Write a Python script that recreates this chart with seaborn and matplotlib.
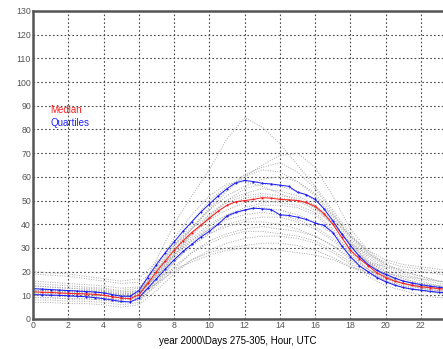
import numpy as np
import pandas as pd
import seaborn as sns
import matplotlib.pyplot as plt

# hours of the day (half-hour steps for the statistics, hourly for single days)
hours_half = np.arange(0, 24, 0.5)
hours_day = np.arange(0, 25, 1)

median = [11.5, 11.3, 11.2, 11.0, 10.8, 10.7, 10.6, 10.4, 10.0, 9.4, 8.8, 8.6,
          10.2, 15.0, 20.0, 24.5, 29.0, 33.0, 36.5, 39.5, 42.5, 45.5, 48.0, 49.5,
          50.0, 50.5, 51.2, 51.0, 50.5, 50.3, 50.0, 49.2, 47.5, 44.5, 40.0, 34.5,
          29.0, 25.5, 22.5, 19.5, 17.5, 16.0, 15.0, 14.2, 13.6, 13.2, 12.8, 12.5]

upper_q = [12.8, 12.6, 12.4, 12.2, 12.0, 11.8, 11.6, 11.4, 11.0, 10.3, 9.6, 9.6,
           12.0, 17.5, 23.0, 28.0, 32.5, 37.0, 41.0, 45.0, 48.5, 52.0, 55.0, 57.5,
           58.5, 58.0, 57.3, 57.0, 56.5, 56.0, 53.5, 52.5, 50.5, 46.5, 41.5, 36.0,
           31.0, 26.5, 23.0, 20.5, 18.8, 17.3, 16.0, 15.2, 14.5, 13.9, 13.4, 13.0]

lower_q = [10.3, 10.2, 10.1, 10.0, 9.8, 9.6, 9.4, 9.0, 8.6, 8.0, 7.4, 7.2,
           8.8, 13.0, 17.0, 21.0, 25.0, 28.5, 31.5, 34.5, 37.0, 40.0, 43.5, 45.0,
           46.0, 46.8, 46.5, 46.2, 44.0, 43.7, 43.0, 42.0, 40.5, 39.5, 36.5, 31.0,
           26.3, 22.5, 20.0, 17.5, 15.7, 14.3, 13.3, 12.6, 12.2, 11.7, 11.3, 11.0]

# single days
days = [
    [12, 11.5, 11, 10.5, 10, 9, 11, 25, 40, 52, 63, 76, 85, 81, 74, 65, 56, 46, 36, 28, 22, 19, 17, 15, 14],
    [14, 13.5, 13, 12.5, 12, 11, 12, 21, 30, 38, 46, 54, 60, 65, 69, 70, 64, 52, 38, 29, 23, 20, 18, 16, 15],
    [10, 10, 9.5, 9.5, 9, 8, 9, 19, 29, 38, 47, 55, 61, 64, 66, 62, 55, 45, 34, 26, 20, 17, 15, 13, 12],
    [11, 11, 10.5, 10, 10, 9, 10, 20, 31, 41, 50, 56, 60, 63, 62, 58, 52, 43, 33, 25, 19, 16, 14, 13, 12],
    [15, 14.5, 14, 13.5, 13, 12, 13, 22, 31, 39, 46, 52, 56, 59, 60, 58, 53, 44, 35, 28, 23, 20, 18, 16, 15],
    [12, 12, 11.5, 11, 11, 10, 10.5, 18, 27, 35, 43, 50, 55, 57, 56, 54, 50, 44, 35, 27, 21, 18, 16, 14, 13],
    [9, 9, 8.5, 8.5, 8, 7, 8, 17, 27, 36, 44, 50, 53, 55, 54, 52, 48, 41, 32, 24, 18, 15, 13, 12, 11],
    [20, 19.5, 19, 18, 17, 16, 17, 24, 31, 38, 44, 49, 52, 53, 52, 51, 47, 40, 32, 27, 24, 22, 21, 20, 19],
    [11, 11, 11, 10.5, 10, 9, 10, 19, 28, 36, 43, 48, 51, 52, 51, 50, 47, 41, 31, 23, 18, 15, 14, 13, 12],
    [13, 12.5, 12, 12, 11.5, 10.5, 11.5, 20, 29, 36, 42, 46, 49, 50, 49, 48, 45, 38, 30, 24, 20, 17, 15, 14, 13],
    [8, 8, 7.5, 7.5, 7, 6, 7, 15, 24, 32, 38, 43, 46, 48, 48, 47, 44, 37, 28, 21, 16, 13, 12, 11, 10],
    [12, 12, 11.5, 11.5, 11, 10, 11, 19, 27, 34, 40, 44, 46, 47, 46, 44, 41, 36, 29, 23, 19, 16, 14, 13, 12],
    [19, 18.5, 18, 17, 16, 15, 15.5, 21, 27, 33, 38, 42, 44, 45, 44, 42, 39, 34, 28, 24, 22, 21, 20, 19, 18],
    [10, 10, 9.5, 9.5, 9, 8, 9, 16, 24, 31, 36, 40, 42, 43, 43, 41, 38, 33, 27, 21, 17, 14, 13, 12, 11],
    [14, 13.5, 13, 13, 12.5, 11.5, 12, 18, 25, 31, 36, 39, 41, 41, 40, 38, 35, 31, 26, 21, 18, 16, 15, 14, 13],
    [9, 9, 8.5, 8.5, 8, 7, 8, 14, 21, 28, 33, 36, 38, 39, 38, 37, 35, 31, 25, 20, 16, 13, 12, 11, 10],
    [11, 11, 10.5, 10, 10, 9, 9.5, 15, 22, 28, 32, 35, 37, 37, 36, 35, 33, 29, 24, 19, 16, 14, 12, 11, 11],
    [7, 7, 6.5, 6.5, 6, 5, 6, 12, 19, 25, 29, 32, 34, 35, 35, 34, 32, 28, 23, 18, 14, 12, 10, 9, 9],
    [12, 12, 11.5, 11, 11, 10, 10.5, 15, 20, 25, 28, 30, 31, 32, 32, 31, 29, 26, 22, 19, 17, 15, 14, 13, 12],
    [16, 15.5, 15, 14.5, 14, 13, 13.5, 17, 21, 24, 27, 29, 30, 30, 29, 28, 27, 25, 22, 20, 19, 18, 17, 16, 15],
    [10, 10, 9.5, 9.5, 9, 8, 9.5, 22, 34, 44, 52, 57, 58, 56, 53, 50, 46, 40, 32, 24, 18, 15, 13, 12, 11],
    [13, 12.5, 12, 12, 11.5, 10.5, 11, 18, 26, 33, 39, 44, 47, 49, 50, 50, 48, 42, 35, 29, 25, 23, 22, 21, 20],
]

sns.set_theme(style="white")
plt.rcParams["font.family"] = ["Liberation Sans", "DejaVu Sans"]

grey = pd.concat(
    [pd.DataFrame({"hour": hours_day, "value": d, "day": i}) for i, d in enumerate(days)]
)
stats = pd.DataFrame({"hour": hours_half, "median": median,
                      "upper": upper_q, "lower": lower_q})

fig = plt.figure(figsize=(4.43, 3.49), dpi=100)
ax = fig.add_axes([33 / 443, 1 - 319 / 349, 410 / 443, 308 / 349])

sns.lineplot(data=grey, x="hour", y="value", units="day", estimator=None,
             color="#a8a8a8", linestyle=(0, (1, 1.5)), linewidth=0.7, ax=ax)

for col, c in [("upper", "#1818ff"), ("lower", "#1818ff"), ("median", "#ff1818")]:
    sns.lineplot(data=stats, x="hour", y=col, color=c, linewidth=0.7,
                 marker="o", markersize=1.5, markeredgewidth=0, ax=ax)

ax.set_xlim(0, 23.25)
ax.set_ylim(0, 130)
ax.set_xticks(range(0, 23, 2))
ax.set_yticks(range(0, 131, 10))
ax.grid(True, color="#484848", linestyle=(0, (1.5, 2)), linewidth=0.8)
ax.tick_params(axis="both", length=0, pad=1.5, labelsize=6.3, labelcolor="#555555")

for side in ["left", "top", "bottom"]:
    ax.spines[side].set_color("#555555")
    ax.spines[side].set_linewidth(1.8)
ax.spines["right"].set_visible(False)

ax.text(0.97, 88.2, "Median", color="#ff2020", fontsize=7, va="center")
ax.text(0.97, 82.7, "Quartiles", color="#2020ff", fontsize=7, va="center")

ax.set_ylabel("")
ax.set_xlabel("year 2000\\Days 275-305, Hour, UTC", fontsize=7, color="black", labelpad=4)

fig.savefig("out.png", dpi=100)
